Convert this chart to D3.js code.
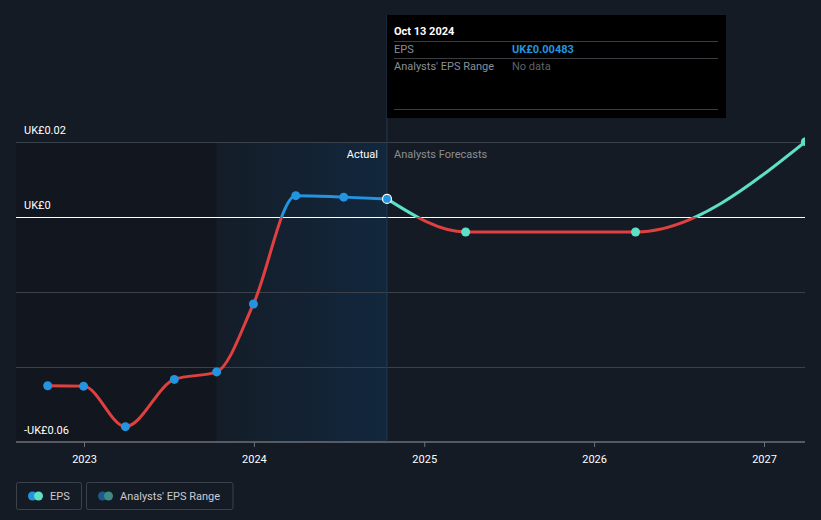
<!DOCTYPE html>
<html>
<head>
<meta charset="utf-8">
<script src="https://cdn.jsdelivr.net/npm/d3@7"></script>
<style>
  html, body { margin: 0; padding: 0; background: #151b24; }
  svg { display: block; font-family: Roboto, "Noto Sans", sans-serif; }
</style>
</head>
<body>
<svg id="chart" width="821" height="520"></svg>
<script>
// ---- data ----
const actualDates = ["2022-10-15", "2022-12-31", "2023-03-31", "2023-07-14", "2023-10-13", "2023-12-31", "2024-03-31", "2024-07-12", "2024-10-13"];
const actualValues = [-0.0450, -0.0451, -0.0559, -0.0433, -0.0413, -0.0232, 0.0057, 0.0053, 0.00483];
const forecastDates = ["2024-10-13", "2025-03-31", "2026-03-31", "2027-03-31"];
const forecastValues = [0.00483, -0.0040, -0.0040, 0.0201];
const yTicks = [0.02, 0, -0.02, -0.04, -0.06];
const yTickLabels = ["UK£0.02", "UK£0", "", "", "-UK£0.06"];
const xTicks = ["2023-01-01", "2024-01-01", "2025-01-01", "2026-01-01", "2027-01-01"];
const xTickLabels = ["2023", "2024", "2025", "2026", "2027"];
const pastStart = "2023-10-13";
const todayDate = "2024-10-13";
const tooltipTitle = "Oct 13 2024";
const tooltipRows = [["EPS", "UK£0.00483"], ["Analysts' EPS Range", "No data"]];
const legendItems = ["EPS", "Analysts' EPS Range"];

(function () {
const parse = d3.utcParse("%Y-%m-%d");
const svg = d3.select("#chart");
const pLeft = 16, pRight = 805, pTop = 142, pBottom = 442;

const x = d3.scaleUtc()
  .domain([parse("2023-01-01"), parse("2027-01-01")])
  .range([84, 764]);
const y = d3.scaleLinear().domain([-0.06, 0.02]).range([pBottom, pTop]);

const actual = actualDates.map((d, i) => ({ date: parse(d), value: actualValues[i] }));
const forecast = forecastDates.map((d, i) => ({ date: parse(d), value: forecastValues[i] }));

const defs = svg.append("defs");
const grad = defs.append("linearGradient").attr("id", "hl").attr("x1", 0).attr("x2", 1).attr("y1", 0).attr("y2", 0);
grad.append("stop").attr("offset", "0%").attr("stop-color", "#141d28");
grad.append("stop").attr("offset", "100%").attr("stop-color", "#12273d");

defs.append("clipPath").attr("id", "plot").append("rect")
  .attr("x", pLeft).attr("y", 0).attr("width", pRight - pLeft).attr("height", pBottom);
defs.append("clipPath").attr("id", "above").append("rect")
  .attr("x", 0).attr("y", 0).attr("width", 821).attr("height", y(0));
defs.append("clipPath").attr("id", "below").append("rect")
  .attr("x", 0).attr("y", y(0)).attr("width", 821).attr("height", 520 - y(0));

// background regions
svg.append("rect").attr("x", pLeft).attr("y", pTop)
  .attr("width", x(parse(pastStart)) - pLeft).attr("height", pBottom - pTop)
  .attr("fill", "#12171f");
svg.append("rect").attr("x", x(parse(pastStart))).attr("y", pTop)
  .attr("width", x(parse(todayDate)) - x(parse(pastStart))).attr("height", pBottom - pTop)
  .attr("fill", "url(#hl)");

// gridlines
yTicks.forEach((t) => {
  if (t === -0.06) return;
  svg.append("line")
    .attr("x1", pLeft).attr("x2", pRight).attr("y1", Math.round(y(t)) + 0.5).attr("y2", Math.round(y(t)) + 0.5)
    .attr("stroke", t === 0 ? "#ffffff" : "#3a414b").attr("stroke-width", 1);
});

// x axis
const xAxis = d3.axisBottom(x)
  .tickValues(xTicks.map(parse))
  .tickFormat((d, i) => xTickLabels[i])
  .tickSize(5).tickSizeOuter(0);
const gx = svg.append("g").attr("transform", `translate(0,${pBottom})`).call(xAxis);
gx.select(".domain").remove();
gx.append("line").attr("x1", pLeft).attr("x2", pRight).attr("y1", 0).attr("y2", 0)
  .attr("stroke", "#6b7079").attr("stroke-width", 1.5);
gx.selectAll(".tick line").attr("stroke", "#6b7079");
gx.selectAll(".tick text").attr("fill", "#ffffff").attr("font-size", 11)
  .attr("font-family", "Roboto, sans-serif").attr("dy", "1.2em");

// y labels
yTicks.forEach((t, i) => {
  if (!yTickLabels[i]) return;
  svg.append("text").attr("x", 24).attr("y", y(t) - 8)
    .attr("fill", "#ffffff").attr("font-size", 11).text(yTickLabels[i]);
});

// today vertical line
svg.append("line").attr("x1", x(parse(todayDate))).attr("x2", x(parse(todayDate)))
  .attr("y1", 15).attr("y2", pBottom).attr("stroke", "#23394f").attr("stroke-width", 1);

// Actual / forecast labels
svg.append("text").attr("x", x(parse(todayDate)) - 9).attr("y", 158)
  .attr("text-anchor", "end").attr("fill", "#ffffff").attr("font-size", 11).text("Actual");
svg.append("text").attr("x", x(parse(todayDate)) + 7).attr("y", 158)
  .attr("fill", "#8a8f96").attr("font-size", 11).text("Analysts Forecasts");

// lines
const line = d3.line().x(d => x(d.date)).y(d => y(d.value)).curve(d3.curveMonotoneX);
const plotG = svg.append("g").attr("clip-path", "url(#plot)");
function drawLine(data, aboveColor, belowColor) {
  plotG.append("g").attr("clip-path", "url(#above)").append("path")
    .attr("d", line(data)).attr("fill", "none").attr("stroke", aboveColor).attr("stroke-width", 3);
  plotG.append("g").attr("clip-path", "url(#below)").append("path")
    .attr("d", line(data)).attr("fill", "none").attr("stroke", belowColor).attr("stroke-width", 3);
}
drawLine(forecast, "#5ce0c6", "#e0403f");
drawLine(actual, "#2394df", "#e0403f");

// dots
plotG.selectAll(".fdot").data(forecast.slice(1)).join("circle")
  .attr("cx", d => x(d.date)).attr("cy", d => y(d.value)).attr("r", 4.5)
  .attr("fill", "#5ce0c6");
plotG.selectAll(".adot").data(actual).join("circle")
  .attr("cx", d => x(d.date)).attr("cy", d => y(d.value)).attr("r", 4.5)
  .attr("fill", "#2394df")
  .attr("stroke", (d, i) => i === actual.length - 1 ? "#ffffff" : "none")
  .attr("stroke-width", 1.2);

// tooltip
const tt = svg.append("g").attr("transform", `translate(${x(parse(todayDate))},15)`);
tt.append("rect").attr("x", 0).attr("y", 0).attr("width", 339).attr("height", 103).attr("fill", "#000000");
tt.append("text").attr("x", 7).attr("y", 20).attr("fill", "#ffffff").attr("font-size", 11)
  .attr("font-weight", "bold").text(tooltipTitle);
[26, 43, 94].forEach(yy => tt.append("line").attr("x1", 7).attr("x2", 331)
  .attr("y1", yy + 0.5).attr("y2", yy + 0.5).attr("stroke", "#3a3d42").attr("stroke-width", 1));
tooltipRows.forEach((r, i) => {
  tt.append("text").attr("x", 7).attr("y", 38 + i * 17).attr("fill", "#8a8f96")
    .attr("font-size", 11).text(r[0]);
  tt.append("text").attr("x", 125).attr("y", 38 + i * 17)
    .attr("fill", i === 0 ? "#2394df" : "#5f6368")
    .attr("font-weight", i === 0 ? "bold" : "normal")
    .attr("font-size", 11).text(r[1]);
});

// legend
const lg = svg.append("g");
const boxes = [[16.5, 65], [86.5, 146.5]];
const iconColors = [["#2394df", "#5ce0c6"], ["#1b5a8a", "#3e8a84"]];
legendItems.forEach((t, i) => {
  const [bx, bw] = boxes[i];
  lg.append("rect").attr("x", bx).attr("y", 482.5).attr("width", bw).attr("height", 27)
    .attr("rx", 2).attr("fill", "none").attr("stroke", "#3c424c");
  lg.append("circle").attr("cx", bx + 16).attr("cy", 496).attr("r", 4.5).attr("fill", iconColors[i][0]);
  lg.append("circle").attr("cx", bx + 22).attr("cy", 496).attr("r", 4.5).attr("fill", iconColors[i][1]);
  lg.append("text").attr("x", bx + 33.5).attr("y", 500).attr("fill", "#c8cbd0")
    .attr("font-size", 11).text(t);
});
})();
</script>
</body>
</html>
